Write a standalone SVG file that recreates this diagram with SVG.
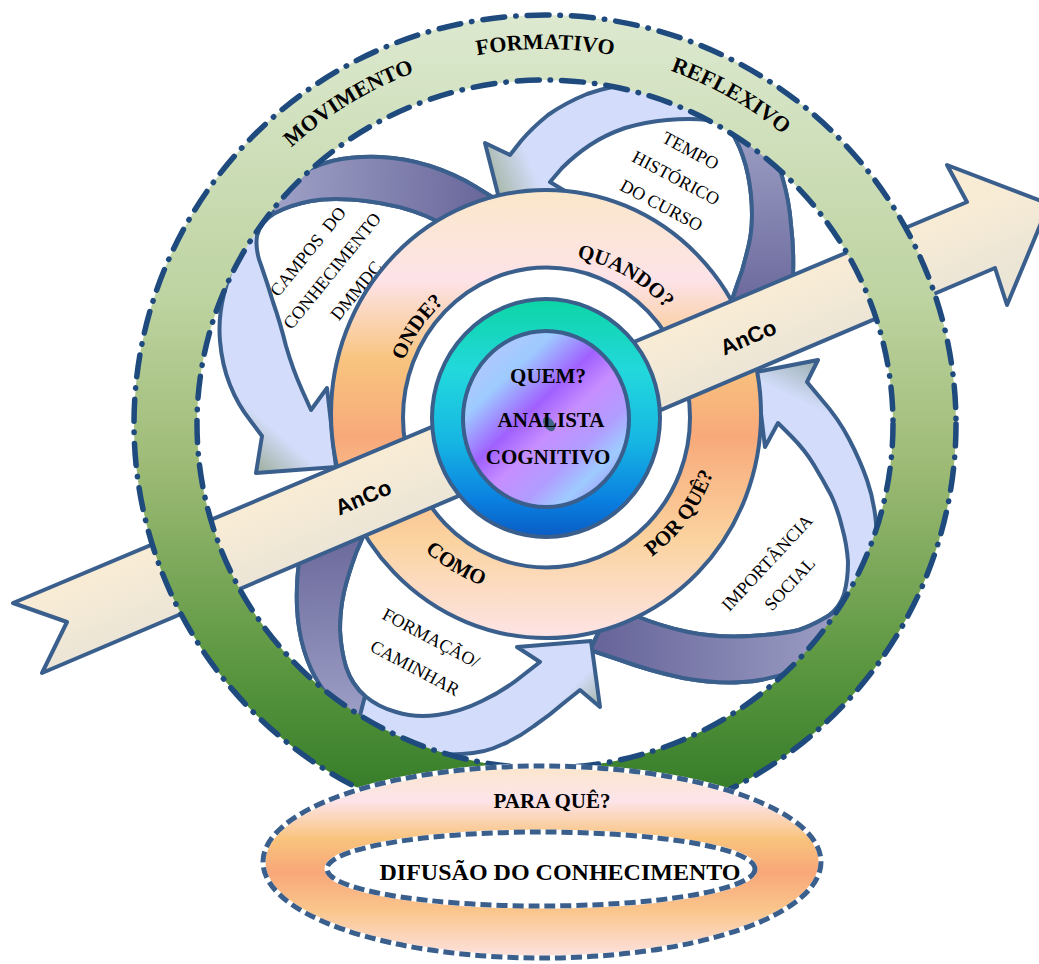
<svg xmlns="http://www.w3.org/2000/svg" width="1039" height="964" viewBox="0 0 1039 964">
<defs>
<style>
.ol{stroke:#3a5f8c;stroke-width:4;stroke-linejoin:round}
.dash{fill:none;stroke:#1f4a7e;stroke-width:5.5;stroke-dasharray:22 11 0.5 11;stroke-linecap:round}
.tb{font-family:"Liberation Serif","Times New Roman",serif;font-weight:bold;fill:#000}
.tr{font-family:"Liberation Serif","Times New Roman",serif;font-size:18px;fill:#000}
.ts{font-family:"Liberation Sans",Arial,sans-serif;font-weight:bold;font-size:22px;fill:#000}
</style>
<linearGradient id="gGreen" gradientUnits="userSpaceOnUse" x1="0" y1="15" x2="0" y2="833">
<stop offset="0" stop-color="#dde9d0"/><stop offset="0.35" stop-color="#bdd3a0"/><stop offset="0.55" stop-color="#9ebb76"/><stop offset="0.8" stop-color="#5a963f"/><stop offset="1" stop-color="#2a7522"/>
</linearGradient>
<linearGradient id="gOrange" gradientUnits="userSpaceOnUse" x1="0" y1="190" x2="0" y2="638">
<stop offset="0" stop-color="#fbe7c9"/><stop offset="0.2" stop-color="#fde3e8"/><stop offset="0.38" stop-color="#f8c47e"/><stop offset="0.55" stop-color="#f8a97a"/><stop offset="0.78" stop-color="#fbd39f"/><stop offset="1" stop-color="#fde4e6"/>
</linearGradient>
<linearGradient id="gPara" gradientUnits="userSpaceOnUse" x1="0" y1="766" x2="0" y2="959">
<stop offset="0" stop-color="#fbe6cc"/><stop offset="0.18" stop-color="#fde4ea"/><stop offset="0.38" stop-color="#f9c37c"/><stop offset="0.55" stop-color="#f8a779"/><stop offset="0.75" stop-color="#fac68c"/><stop offset="1" stop-color="#fde3e3"/>
</linearGradient>
<linearGradient id="gTeal" x1="0" y1="0" x2="0" y2="1">
<stop offset="0" stop-color="#0dd5a5"/><stop offset="0.3" stop-color="#22d8dc"/><stop offset="0.6" stop-color="#16b6e3"/><stop offset="0.85" stop-color="#0a7fe0"/><stop offset="1" stop-color="#0a5cc4"/>
</linearGradient>
<linearGradient id="gPurple" x1="0.1" y1="0.05" x2="0.9" y2="0.95">
<stop offset="0" stop-color="#b9c6fb"/><stop offset="0.22" stop-color="#9ecbff"/><stop offset="0.42" stop-color="#a060ff"/><stop offset="0.56" stop-color="#c68eff"/><stop offset="0.72" stop-color="#b19cff"/><stop offset="0.85" stop-color="#9ecbff"/><stop offset="1" stop-color="#a88cf5"/>
</linearGradient>
<linearGradient id="gAnco" gradientUnits="userSpaceOnUse" x1="500" y1="399" x2="530" y2="470">
<stop offset="0" stop-color="#f9ecd5"/><stop offset="1" stop-color="#ebe5d6"/>
</linearGradient>
<linearGradient id="gTL" gradientUnits="userSpaceOnUse" x1="262" y1="468" x2="300" y2="425"><stop offset="0" stop-color="#a5b5aa"/><stop offset="0.65" stop-color="#d3ddfb"/></linearGradient>
<linearGradient id="gTR" gradientUnits="userSpaceOnUse" x1="490" y1="175" x2="550" y2="150"><stop offset="0" stop-color="#a8b8aa"/><stop offset="0.65" stop-color="#d3ddfb"/></linearGradient>
<linearGradient id="gBR" gradientUnits="userSpaceOnUse" x1="815" y1="362" x2="788" y2="420"><stop offset="0" stop-color="#9fb1b4"/><stop offset="0.65" stop-color="#d3ddfb"/></linearGradient>
<linearGradient id="gB" gradientUnits="userSpaceOnUse" x1="600" y1="705" x2="565" y2="670"><stop offset="0" stop-color="#a5b5aa"/><stop offset="0.65" stop-color="#d3ddfb"/></linearGradient>
<linearGradient id="pTL" gradientUnits="userSpaceOnUse" x1="270" y1="190" x2="480" y2="200"><stop offset="0" stop-color="#a0a2c8"/><stop offset="1" stop-color="#6b699c"/></linearGradient>
<linearGradient id="pTR" gradientUnits="userSpaceOnUse" x1="760" y1="130" x2="765" y2="300"><stop offset="0" stop-color="#9c9ec4"/><stop offset="1" stop-color="#6c6a9d"/></linearGradient>
<linearGradient id="pBR" gradientUnits="userSpaceOnUse" x1="850" y1="640" x2="600" y2="640"><stop offset="0" stop-color="#9ea0c6"/><stop offset="1" stop-color="#67659a"/></linearGradient>
<linearGradient id="pB" gradientUnits="userSpaceOnUse" x1="330" y1="710" x2="320" y2="540"><stop offset="0" stop-color="#9a9cc4"/><stop offset="1" stop-color="#6c6a9c"/></linearGradient>
<path id="ringPath" d="M 170,424 A 375 375 0 0 1 920,424"/>
<path id="pQ" d="M 386,415 A 160 160 0 0 1 706,415"/>
<path id="pO" d="M 394,415 A 152 152 0 0 1 698,415"/>
<path id="pC" d="M 364,415 A 182 182 0 0 0 728,415"/>
<path id="pP" d="M 369,415 A 177 177 0 0 0 723,415"/>
</defs>
<rect width="1039" height="964" fill="#ffffff"/>

<g id="cycle-arrows">
<g id="arrow-campos">
<path class="ol" fill="url(#gTL)" d="M 497,200 L 476,187 Q 455,174 430,166 Q 405,158 380,157 Q 355,156 332,161 Q 310,167 292,178 Q 275,190 262,207 Q 250,225 240,247 Q 230,270 224,294 Q 218,318 220,341 Q 222,365 230,385 Q 238,405 250,420 L 262,436 L 256,473 L 336,467 L 327,388 L 311,410 L 302,390 Q 293,370 286,346 Q 280,322 273,302 Q 267,282 261,265 Q 255,250 257,236 Q 260,222 275,213 Q 290,205 311,201 Q 333,197 366,201 Q 400,205 426,216 L 452,228 Z"/>
<path class="ol" fill="url(#pTL)" d="M 497,200 L 476,187 Q 455,174 430,166 Q 405,158 380,157 Q 355,156 332,161 Q 310,167 292,178 Q 275,190 264,205 L 275,213 Q 290,205 311,201 Q 333,197 366,201 Q 400,205 426,216 L 452,228 Z"/>
</g>
<g id="arrow-tempo">
<path class="ol" fill="url(#gTR)" d="M 792,300 L 793,275 Q 794,250 791,225 Q 789,200 783,180 Q 778,160 769,144 Q 760,128 747,116 Q 735,104 717,96 Q 700,88 677,85 Q 655,82 632,84 Q 610,86 587,94 Q 565,103 548,115 Q 532,128 521,141 L 510,155 L 485,143 L 502,210 L 580,200 L 550,182 L 562,168 Q 575,155 590,145 Q 605,135 625,128 Q 645,122 667,120 Q 690,118 708,120 Q 727,122 735,138 Q 744,155 748,175 Q 752,195 752,215 Q 752,235 747,252 Q 743,270 737,285 L 732,300 Z"/>
<path class="ol" fill="url(#pTR)" d="M 792,300 L 793,275 Q 794,250 791,225 Q 789,200 783,180 Q 778,160 769,144 Q 760,128 747,116 L 728,123 L 735,138 Q 744,155 748,175 Q 752,195 752,215 Q 752,235 747,252 Q 743,270 737,285 L 732,300 Z"/>
</g>
<g id="arrow-importancia">
<path class="ol" fill="url(#gBR)" d="M 590,650 L 620,660 Q 650,671 683,678 Q 717,684 742,682 Q 767,681 792,671 Q 817,661 834,645 Q 852,628 861,609 Q 871,590 874,568 Q 878,545 876,523 Q 874,500 867,480 Q 860,460 849,439 Q 838,418 822,400 L 807,382 L 818,360 L 756,372 L 765,447 L 778,423 L 791,436 Q 805,450 814,465 Q 823,480 831,495 Q 838,510 842,527 Q 847,545 848,562 Q 848,580 844,594 Q 840,607 828,616 Q 815,625 799,630 Q 783,634 750,636 Q 717,638 688,632 Q 660,626 636,616 L 612,605 Z"/>
<path class="ol" fill="url(#pBR)" d="M 590,650 L 620,660 Q 650,671 683,678 Q 717,684 742,682 Q 767,681 792,671 Q 817,661 834,645 L 848,629 L 836,611 Q 818,623 799,630 Q 783,634 750,636 Q 717,638 688,632 Q 660,626 636,616 L 612,605 Z"/>
</g>
<g id="arrow-formacao">
<path class="ol" fill="url(#gB)" d="M 302,540 L 299,562 Q 296,585 297,607 Q 298,630 304,650 Q 310,670 320,685 Q 330,700 344,712 Q 358,725 376,735 Q 395,745 417,750 Q 440,756 462,754 Q 485,753 501,745 Q 518,738 534,726 Q 550,715 565,702 L 580,690 L 600,707 L 591,641 L 517,647 L 540,662 L 522,676 Q 505,690 482,701 Q 460,712 437,715 Q 415,718 396,712 Q 378,707 365,696 Q 352,685 346,667 Q 341,650 340,630 Q 340,610 344,592 Q 348,575 356,553 L 365,532 Z"/>
<path class="ol" fill="url(#pB)" d="M 302,540 L 299,562 Q 296,585 297,607 Q 298,630 304,650 Q 310,670 320,685 Q 330,700 344,712 L 358,723 L 365,696 Q 352,685 346,667 Q 341,650 340,630 Q 340,610 344,592 Q 348,575 356,553 L 365,532 Z"/>
</g>
</g>

<g id="leaf-texts">
<g id="leaf-campos" transform="translate(332,271) rotate(-51)">
<text class="tr" text-anchor="middle" x="0" y="-25" xml:space="preserve">CAMPOS  DO</text>
<text class="tr" text-anchor="middle" x="0" y="6">CONHECIMENTO</text>
<text class="tr" text-anchor="middle" x="0" y="37">DMMDC</text>
</g>
<g id="leaf-tempo" transform="translate(676,178) rotate(28)">
<text class="tr" text-anchor="middle" x="0" y="-25">TEMPO</text>
<text class="tr" text-anchor="middle" x="0" y="6">HISTÓRICO</text>
<text class="tr" text-anchor="middle" x="0" y="37">DO CURSO</text>
</g>
<g id="leaf-formacao" transform="translate(423,653) rotate(28)">
<text class="tr" text-anchor="middle" x="0" y="-11">FORMAÇÃO/</text>
<text class="tr" text-anchor="middle" x="0" y="23">CAMINHAR</text>
</g>
<g id="leaf-importancia" transform="translate(778,573) rotate(-47)">
<text class="tr" text-anchor="middle" x="0" y="-9">IMPORTÂNCIA</text>
<text class="tr" text-anchor="middle" x="0" y="22">SOCIAL</text>
</g>
</g>

<g id="node-questions-ring">
<path class="ol" fill="url(#gOrange)" fill-rule="evenodd" d="M 331,414 A 215 224 0 1 0 761,414 A 215 224 0 1 0 331,414 Z M 403,417.5 A 143.5 150 0 1 0 690,417.5 A 143.5 150 0 1 0 403,417.5 Z"/>
<text class="tb" font-size="21" text-anchor="middle"><textPath href="#pQ" startOffset="334">QUANDO?</textPath></text>
<text class="tb" font-size="21" text-anchor="middle"><textPath href="#pO" startOffset="91">ONDE?</textPath></text>
<text class="tb" font-size="21" text-anchor="middle"><textPath href="#pC" startOffset="187">COMO</textPath></text>
<text class="tb" font-size="21" text-anchor="middle"><textPath href="#pP" startOffset="444">POR QUÊ?</textPath></text>
</g>

<g id="anco-arrow">
<path class="ol" fill="url(#gAnco)" d="M 13,603 L 967,202 L 947,165 L 1049,204 L 1007,305 L 995,268 L 42,673 L 67,622 Z"/>
<text class="ts" text-anchor="middle" transform="translate(363,497) rotate(-23)" x="0" y="8">AnCo</text>
<text class="ts" text-anchor="middle" transform="translate(748,337) rotate(-23)" x="0" y="8">AnCo</text>
</g>

<g id="node-quem">
<ellipse class="ol" cx="546" cy="418" rx="114" ry="119" fill="url(#gTeal)" stroke-width="4.5"/>
<ellipse class="ol" cx="546" cy="419" rx="83" ry="88" fill="url(#gPurple)" stroke-width="4.5"/>
<ellipse cx="549" cy="424" rx="5" ry="8" fill="#3f6384" transform="rotate(-35 549 424)"/>
<text class="tb" font-size="21" text-anchor="middle" x="548" y="383">QUEM?</text>
<text class="tb" font-size="21" text-anchor="middle" x="551" y="427">ANALISTA</text>
<text class="tb" font-size="21" text-anchor="middle" x="548" y="464">COGNITIVO</text>
</g>

<g id="node-outer-ring">
<path fill="url(#gGreen)" fill-rule="evenodd" d="M 134,424 A 411 409 0 1 1 956,424 A 411 409 0 1 1 134,424 Z M 197,424 A 348 344 0 1 0 893,424 A 348 344 0 1 0 197,424 Z"/>
<ellipse class="dash" cx="545" cy="424" rx="411" ry="409"/>
<ellipse class="dash" cx="545" cy="424" rx="348" ry="344"/>
<text class="tb" font-size="22" text-anchor="middle"><textPath href="#ringPath" startOffset="383">MOVIMENTO</textPath></text>
<text class="tb" font-size="22" text-anchor="middle"><textPath href="#ringPath" startOffset="589">FORMATIVO</textPath></text>
<text class="tb" font-size="22" text-anchor="middle"><textPath href="#ringPath" startOffset="782">REFLEXIVO</textPath></text>
</g>

<g id="node-para-que">
<ellipse cx="542" cy="862" rx="279" ry="96" fill="url(#gPara)" stroke="#ffffff" stroke-width="5"/>
<ellipse cx="542" cy="862" rx="279" ry="96" fill="none" stroke="#3a5f8c" stroke-width="5" stroke-dasharray="11 5"/>
<ellipse cx="541" cy="869" rx="214" ry="37" fill="#ffffff" stroke="#ffffff" stroke-width="5"/>
<ellipse cx="541" cy="869" rx="214" ry="37" fill="none" stroke="#3a5f8c" stroke-width="5" stroke-dasharray="11 5"/>
<text class="tb" font-size="21" text-anchor="middle" x="552" y="808">PARA QUÊ?</text>
<text class="tb" font-size="24" text-anchor="middle" x="560" y="880">DIFUSÃO DO CONHECIMENTO</text>
</g>
</svg>
